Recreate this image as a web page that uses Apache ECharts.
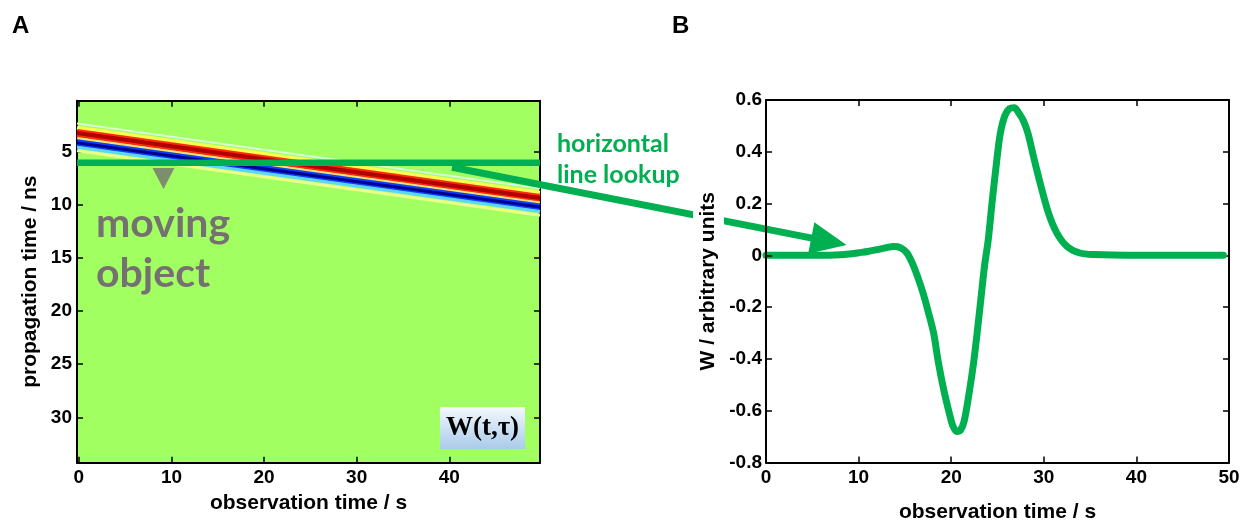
<!DOCTYPE html>
<html><head><meta charset="utf-8">
<script src="https://cdn.jsdelivr.net/npm/echarts@6/dist/echarts.min.js"></script>
<style>html,body{margin:0;padding:0;background:#fff}#c{width:1256px;height:524px}</style>
</head><body><div id="c"></div>
<script>
// ---------- Panel A : W(t, tau) image ----------
const panelATicksX = [0, 10, 20, 30, 40];
const panelATicksY = [5, 10, 15, 20, 25, 30];
const bandTimes = [-0.2, 49.8];           // observation time at left / right edge (s)
const stripeUpperCyan = [2.40, 8.50];     // propagation time (ns) of each stripe at those times
const stripeUpperHalo = [2.80, 8.90];
const stripeRed = [3.29, 9.39];
const stripeGap = [3.77, 9.82];
const stripeBlue = [4.20, 10.23];
const stripeLowerCyan = [4.62, 10.66];
const stripeLowerHalo = [4.95, 11.0];
const lookupDelay = 6.07;                 // horizontal lookup line (ns)
const objectMarker = [9.14, 7.56];        // grey arrow marker (s, ns)

// ---------- Panel B : horizontal line lookup ----------
const obsTimeB = [0, 2, 4, 6, 8, 9, 10, 11, 12, 13, 13.8, 14.5, 15.2, 15.8, 16.4, 17.0, 17.5, 18.1, 18.6, 19.2, 19.8, 20.2, 20.6, 21.0, 21.4, 21.9, 22.4, 22.8, 23.2, 23.6, 24.0, 24.4, 24.9, 25.3, 25.8, 26.3, 26.8, 27.3, 27.8, 28.3, 28.9, 29.6, 30.5, 31.4, 32.5, 33.9, 35.4, 40, 45, 49.4];
const amplitudeB = [0, 0, 0, 0, 0.002, 0.005, 0.01, 0.015, 0.022, 0.03, 0.034, 0.03, 0.01, -0.03, -0.085, -0.15, -0.215, -0.3, -0.41, -0.52, -0.61, -0.66, -0.68, -0.675, -0.64, -0.54, -0.42, -0.3, -0.17, -0.04, 0.06, 0.2, 0.36, 0.47, 0.54, 0.567, 0.57, 0.55, 0.52, 0.47, 0.38, 0.28, 0.164, 0.087, 0.035, 0.009, 0.003, 0, 0, 0];

// ---------- connecting arrow ----------
const arrowFrom = [40.3, 6.5];   // in panel A (s, ns)
const arrowTo = [8.7, 0.04];     // in panel B (s, W)

const GREEN = '#00b050';
const FIELD = '#a2ff62';
const GREY = '#767171';
const tickFont = {fontFamily: '"Liberation Sans", Arial, sans-serif', fontWeight: 'bold', fontSize: 19, color: '#000'};
const nameFont = {fontFamily: '"Liberation Sans", Arial, sans-serif', fontWeight: 'bold', fontSize: 21, color: '#000'};
const axLine = {show: true, onZero: false, lineStyle: {color: '#000', width: 2}};
const tickIn = {show: true, inside: true, length: 6, lineStyle: {color: '#000', width: 1.5}};

function stripe(arr, color, width) {
  return {
    type: 'line', xAxisIndex: 0, yAxisIndex: 0, silent: true, clip: true, symbol: 'none',
    data: [[bandTimes[0], arr[0]], [bandTimes[1], arr[1]]],
    lineStyle: {color: color, width: width, cap: 'butt'}, z: 2
  };
}

const chart = echarts.init(document.getElementById('c'), null, {renderer: 'canvas'});
const option = {
  animation: false,
  backgroundColor: '#fff',
  grid: [
    {left: 77, top: 100.7, width: 463, height: 362, show: true, backgroundColor: FIELD, borderWidth: 0, outerBoundsMode: 'none', containLabel: false},
    {left: 766, top: 100, width: 463, height: 362.5, show: false, outerBoundsMode: 'none', containLabel: false}
  ],
  xAxis: [
    {type: 'value', gridIndex: 0, position: 'bottom', min: bandTimes[0], max: bandTimes[1],
     axisLine: axLine, axisTick: Object.assign({}, tickIn, {customValues: panelATicksX}),
     axisLabel: Object.assign({customValues: panelATicksX, margin: 6}, tickFont), splitLine: {show: false},
     name: 'observation time / s', nameLocation: 'middle', nameGap: 30, nameTextStyle: nameFont},
    {type: 'value', gridIndex: 0, position: 'top', min: bandTimes[0], max: bandTimes[1],
     axisLine: axLine, axisTick: Object.assign({}, tickIn, {customValues: panelATicksX}),
     axisLabel: {show: false}, splitLine: {show: false}},
    {type: 'value', gridIndex: 1, position: 'bottom', min: 0, max: 50, interval: 10,
     axisLine: axLine, axisTick: tickIn,
     axisLabel: Object.assign({margin: 6}, tickFont), splitLine: {show: false},
     name: 'observation time / s', nameLocation: 'middle', nameGap: 39, nameTextStyle: nameFont},
    {type: 'value', gridIndex: 1, position: 'top', min: 0, max: 50, interval: 10,
     axisLine: axLine, axisTick: tickIn, axisLabel: {show: false}, splitLine: {show: false}}
  ],
  yAxis: [
    {type: 'value', gridIndex: 0, position: 'left', inverse: true, min: 0.25, max: 34.25,
     axisLine: axLine, axisTick: Object.assign({}, tickIn, {customValues: panelATicksY}),
     axisLabel: Object.assign({customValues: panelATicksY, margin: 5}, tickFont), splitLine: {show: false},
     name: 'propagation time / ns', nameLocation: 'middle', nameGap: 36, nameRotate: 90, nameTextStyle: nameFont},
    {type: 'value', gridIndex: 0, position: 'right', inverse: true, min: 0.25, max: 34.25,
     axisLine: axLine, axisTick: Object.assign({}, tickIn, {customValues: panelATicksY}),
     axisLabel: {show: false}, splitLine: {show: false}},
    {type: 'value', gridIndex: 1, position: 'left', min: -0.8, max: 0.6, interval: 0.2, z: 10,
     axisLine: axLine, axisTick: tickIn,
     axisLabel: Object.assign({margin: 4, formatter: v => Math.abs(v) < 1e-9 ? '0' : v.toFixed(1)}, tickFont),
     splitLine: {show: false},
     name: 'W / arbitrary units', nameLocation: 'middle', nameGap: 42, nameRotate: 90,
     nameTextStyle: Object.assign({backgroundColor: '#fff', padding: [5, 0, 5, 0]}, nameFont)},
    {type: 'value', gridIndex: 1, position: 'right', min: -0.8, max: 0.6, interval: 0.2,
     axisLine: axLine, axisTick: tickIn, axisLabel: {show: false}, splitLine: {show: false}}
  ],
  series: [
    stripe(stripeUpperCyan, '#d4ffd8', 2),
    stripe(stripeUpperHalo, '#faff50', 4),
    stripe(stripeRed, '#ff2a10', 8),
    stripe(stripeRed, '#b00000', 4),
    stripe(stripeGap, '#ffe070', 2),
    stripe(stripeBlue, '#1040ff', 7),
    stripe(stripeBlue, '#00008e', 3),
    stripe(stripeLowerCyan, '#5ad8ff', 3),
    stripe(stripeLowerHalo, '#ecff88', 3),
    {type: 'line', xAxisIndex: 0, yAxisIndex: 0, silent: true, clip: true, symbol: 'none', z: 3,
     data: [[bandTimes[0], lookupDelay], [bandTimes[1], lookupDelay]],
     lineStyle: {color: GREEN, width: 6.5, cap: 'butt'}},
    {type: 'scatter', xAxisIndex: 0, yAxisIndex: 0, silent: true, z: 3,
     data: [objectMarker], symbol: 'triangle', symbolRotate: 180, symbolSize: [22, 21],
     itemStyle: {color: GREY}},
    {type: 'line', xAxisIndex: 2, yAxisIndex: 2, silent: true, symbol: 'none', smooth: 0.3, z: 3,
     data: obsTimeB.map((t, i) => [t, amplitudeB[i]]),
     lineStyle: {color: GREEN, width: 7, cap: 'round', join: 'round'}}
  ]
};
chart.setOption(option);

// Graphic annotations
const p0 = chart.convertToPixel({xAxisIndex: 0, yAxisIndex: 0}, arrowFrom);
const p1 = chart.convertToPixel({xAxisIndex: 2, yAxisIndex: 2}, arrowTo);
const dx = p1[0] - p0[0], dy = p1[1] - p0[1];
const L = Math.sqrt(dx * dx + dy * dy);
const ux = dx / L, uy = dy / L;
const headLen = 36, headHalf = 16;
const bx = p1[0] - ux * headLen, by = p1[1] - uy * headLen;

const labelFont = 'bold 24px "Liberation Sans", Arial, sans-serif';
chart.setOption({
  graphic: [
    {type: 'text', left: 12, top: 14, style: {text: 'A', font: labelFont, fill: '#000'}},
    {type: 'text', left: 672, top: 14, style: {text: 'B', font: labelFont, fill: '#000'}},
    {type: 'text', x: 96, y: 224, z: 6, style: {text: 'moving', font: 'bold 41px Lato, sans-serif', fill: GREY, verticalAlign: 'middle'}},
    {type: 'text', x: 96, y: 274, z: 6, style: {text: 'object', font: 'bold 41px Lato, sans-serif', fill: GREY, verticalAlign: 'middle'}},
    {type: 'text', x: 557, y: 144, z: 6, style: {text: 'horizontal', font: 'bold 25px Lato, sans-serif', fill: GREEN, verticalAlign: 'middle'}},
    {type: 'text', x: 557, y: 175, z: 6, style: {text: 'line lookup', font: 'bold 25px Lato, sans-serif', fill: GREEN, verticalAlign: 'middle'}},
    {type: 'rect', z: 6, shape: {x: 440, y: 407, width: 85, height: 42},
     style: {fill: new echarts.graphic.LinearGradient(0, 0, 0, 1, [{offset: 0, color: '#f4f8fd'}, {offset: 1, color: '#a9cbea'}])}},
    {type: 'text', x: 482.5, y: 428, z: 7, style: {text: 'W(t,τ)', font: 'bold 27px "Liberation Serif", "DejaVu Serif", serif', fill: '#000', align: 'center', verticalAlign: 'middle'}},
    {type: 'line', z: 5, shape: {x1: p0[0], y1: p0[1], x2: bx + ux * 2, y2: by + uy * 2},
     style: {stroke: GREEN, lineWidth: 7, lineCap: 'butt'}},
    {type: 'polygon', z: 5, shape: {points: [[p1[0], p1[1]], [bx - uy * headHalf, by + ux * headHalf], [bx + uy * headHalf, by - ux * headHalf]]},
     style: {fill: GREEN}}
  ]
});
</script></body></html>
